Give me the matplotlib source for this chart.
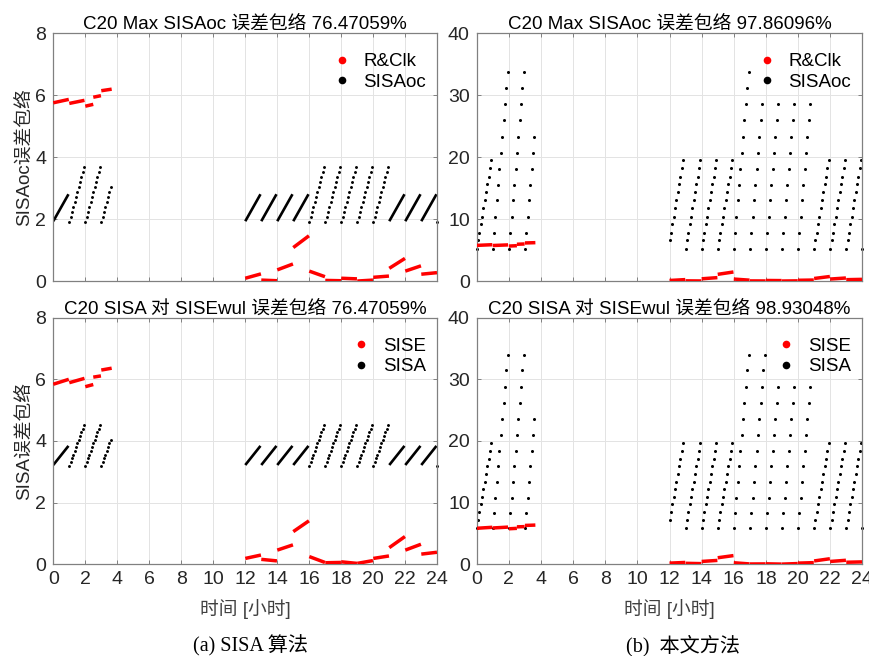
import numpy as np
import matplotlib
matplotlib.use("Agg")
import matplotlib.pyplot as plt
from matplotlib.lines import Line2D

plt.rcParams['font.family'] = ['Liberation Sans', 'Noto Sans CJK SC']
plt.rcParams['axes.unicode_minus'] = False

# ---- red segments: top row R&Clk, bottom row SISE (hours, metres) ----
seg_start = [0, 1, 2, 2.5, 3, 12, 13, 14, 15, 16, 17, 18, 19, 20, 21, 22, 23]
seg_end = [0.97, 1.95, 2.5, 2.98, 3.65, 12.98, 13.98, 14.98, 15.98, 16.98,
           17.98, 18.98, 19.98, 20.98, 21.98, 22.98, 23.98]
rclk_v0 = [5.75, 5.73, 5.64, 5.93, 6.14, 0.09, 0.03, 0.36, 1.08, 0.32,
           0.02, 0.09, 0.00, 0.12, 0.41, 0.32, 0.22]
rclk_v1 = [5.86, 5.83, 5.70, 5.98, 6.19, 0.23, 0.01, 0.55, 1.46, 0.14,
           0.01, 0.07, 0.03, 0.16, 0.73, 0.49, 0.27]
sise_v0 = [5.84, 5.89, 5.76, 6.07, 6.30, 0.19, 0.16, 0.46, 1.06, 0.25,
           0.05, 0.08, 0.03, 0.19, 0.54, 0.46, 0.33]
sise_v1 = [6.00, 6.03, 5.83, 6.11, 6.36, 0.30, 0.11, 0.63, 1.41, 0.06,
           0.06, 0.03, 0.12, 0.27, 0.90, 0.65, 0.39]

# ---- (a) SISA algorithm: black ramps ----
dense_hours = [0, 12, 13, 14, 15, 21, 22, 23]
dense_len = 0.95
dot_hours = [1, 2, 3, 16, 17, 18, 19, 20, 24]
dot_counts = [12, 12, 8, 12, 12, 12, 12, 12, 1]
sisaoc_dense = [1.93, 2.80]
sisaoc_dots = [1.90, 2.06, 2.23, 2.39, 2.55, 2.72, 2.88, 3.04, 3.20, 3.37, 3.53, 3.69]
sisa_dense = [3.22, 3.84]
sisa_dots = [3.20, 3.32, 3.44, 3.56, 3.68, 3.80, 3.92, 4.04, 4.16, 4.28, 4.40, 4.52]

# ---- (b) proposed method: quantised ramps ----
oc_low = [5.17, 6.62, 7.80, 9.21, 10.39, 11.74, 13.09, 14.33, 15.62, 16.85, 18.20, 19.55]
oc_high = [5.17, 7.70, 10.40, 13.00, 15.50, 18.10, 20.70, 23.30, 25.90, 28.50, 31.10, 33.70]
sa_low = [5.94, 7.17, 8.46, 9.71, 10.95, 12.14, 13.38, 14.68, 15.91, 17.15, 18.45, 19.69]
sa_high = [5.94, 8.25, 10.79, 13.32, 15.86, 18.45, 20.98, 23.57, 26.16, 28.75, 31.44, 33.98]
b_hours = [0, 1, 2, 3, 12, 13, 14, 15, 16, 17, 18, 19, 20, 21, 22, 23, 24]
b_kind = ['low', 'high', 'high', 'high', 'low', 'low', 'low', 'low', 'high',
          'high', 'high', 'high', 'high', 'low', 'low', 'low', 'low']
b_first = [0, 0, 0, 0, 1, 0, 0, 0, 0, 0, 0, 0, 0, 0, 0, 0, 0]
b_count_top = [12, 12, 12, 8, 11, 12, 12, 12, 12, 10, 10, 10, 10, 12, 12, 12, 1]
b_count_bot = [12, 12, 12, 8, 11, 12, 12, 12, 12, 12, 10, 10, 10, 12, 12, 12, 1]

dt = 5.0 / 60.0  # 5 min epochs

titles = ['C20 Max SISAoc 误差包络 76.47059%', 'C20 Max SISAoc 误差包络 97.86096%',
          'C20 SISA 对 SISEwul 误差包络 76.47059%', 'C20 SISA 对 SISEwul 误差包络 98.93048%']
legends = [['R&Clk', 'SISAoc'], ['R&Clk', 'SISAoc'], ['SISE', 'SISA'], ['SISE', 'SISA']]
ylabels = ['SISAoc误差包络', None, 'SISA误差包络', None]
captions = ['(a) SISA 算法', '(b)  本文方法']

TXT = '#262626'
SPINE = '#808080'


def draw_red(ax, v0, v1):
    for t0, t1, a, b in zip(seg_start, seg_end, v0, v1):
        ax.plot([t0, t1], [a, b], color='red', lw=2.5, solid_capstyle='butt', zorder=3)


def draw_a(ax, dense, dots):
    for h in dense_hours:
        ax.plot([h, h + dense_len], dense, color='black', lw=1.9,
                solid_capstyle='butt', zorder=2)
    for h, n in zip(dot_hours, dot_counts):
        t = h + dt * np.arange(n)
        ax.plot(t, dots[:n], ls='', marker='o', ms=2.1, mew=0,
                color='black', clip_on=False, zorder=2)


def draw_b(ax, low, high, counts):
    for h, k, f, n in zip(b_hours, b_kind, b_first, counts):
        lev = low if k == 'low' else high
        vals = lev[f:f + n]
        t = h + dt * np.arange(len(vals))
        ax.plot(t, vals, ls='', marker='o', ms=2.2, mew=0,
                color='black', clip_on=False, zorder=2)


def style(ax, ymax, ystep, show_x):
    ax.set_xlim(0, 24)
    ax.set_ylim(0, ymax)
    ax.set_xticks(np.arange(0, 25, 2))
    ax.set_yticks(np.arange(0, ymax + 0.1, ystep))
    ax.grid(True, color='#e3e3e3', lw=0.7)
    ax.set_axisbelow(True)
    for s in ax.spines.values():
        s.set_color(SPINE)
        s.set_linewidth(0.9)
    ax.tick_params(direction='in', length=3, width=0.7, colors=SPINE,
                   labelcolor=TXT, labelsize=14, top=True, right=True, pad=5)
    if not show_x:
        ax.tick_params(labelbottom=False)


fig = plt.figure(figsize=(8.69, 6.56), dpi=100)
pos = [[0.0613, 0.5716, 0.4419, 0.378], [0.5486, 0.5716, 0.4437, 0.378],
       [0.0613, 0.1398, 0.4419, 0.376], [0.5486, 0.1398, 0.4437, 0.376]]
axes = [fig.add_axes(p) for p in pos]

draw_red(axes[0], rclk_v0, rclk_v1)
draw_a(axes[0], sisaoc_dense, sisaoc_dots)
draw_red(axes[1], rclk_v0, rclk_v1)
draw_b(axes[1], oc_low, oc_high, b_count_top)
draw_red(axes[2], sise_v0, sise_v1)
draw_a(axes[2], sisa_dense, sisa_dots)
draw_red(axes[3], sise_v0, sise_v1)
draw_b(axes[3], sa_low, sa_high, b_count_bot)

for i, ax in enumerate(axes):
    ymax, ystep = (8, 2) if i % 2 == 0 else (40, 10)
    style(ax, ymax, ystep, i >= 2)
    ax.set_title(titles[i], fontsize=13.5, color='black', pad=3)
    if ylabels[i]:
        ax.set_ylabel(ylabels[i], fontsize=13.5, color=TXT, labelpad=2)
    if i >= 2:
        ax.set_xlabel('时间 [小时]', fontsize=13.5, color='#404040', labelpad=8)
    handles = [Line2D([], [], ls='', marker='o', ms=5.5, mew=0, color='red'),
               Line2D([], [], ls='', marker='o', ms=5.5, mew=0, color='black')]
    ax.legend(handles, legends[i], loc='upper right', frameon=False, fontsize=13.5,
              handlelength=1.4, handletextpad=0.45, labelspacing=0.2,
              bbox_to_anchor=(0.99, 0.95), borderaxespad=0)

fig.text(0.288, 0.015, captions[0], ha='center', va='center', fontsize=14.5,
         family=['Liberation Serif', 'Noto Sans CJK SC'])
fig.text(0.786, 0.015, captions[1], ha='center', va='center', fontsize=14.5,
         family=['Liberation Serif', 'Noto Sans CJK SC'])

fig.savefig('out.png', dpi=100)
